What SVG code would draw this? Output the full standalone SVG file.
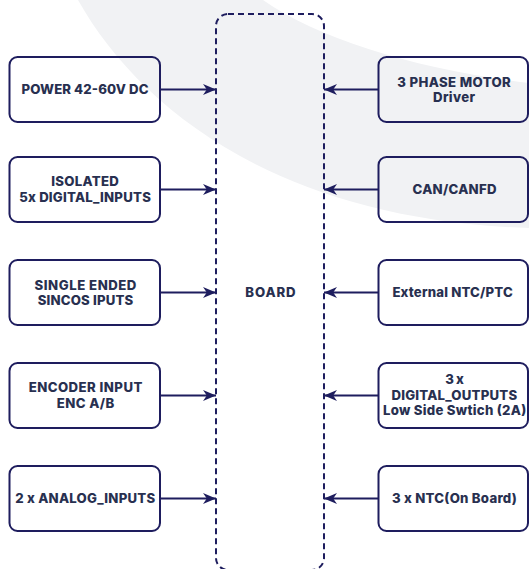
<svg xmlns="http://www.w3.org/2000/svg" width="529" height="569" viewBox="0 0 529 569">
  <style>
    .box { fill: none; stroke: #1e1d5e; stroke-width: 2; }
    .board { fill: none; stroke: #1e1d5e; stroke-width: 2; stroke-dasharray: 6 4; }
    .conn { stroke: #1e1d5e; stroke-width: 2; fill: none; marker-end: url(#arrow); }
    .t { font-family: Inter, "Noto Sans", "Liberation Sans", sans-serif; font-weight: 800; font-size: 13.2px; fill: #283050; text-anchor: middle; }
  </style>
  <defs>
    <marker id="arrow" markerUnits="userSpaceOnUse" markerWidth="14" markerHeight="12" refX="13" refY="5.5" orient="auto">
      <path d="M0,0 L13,5.5 L0,11 L3.8,5.5 Z" fill="#1e1d5e"/>
    </marker>
  </defs>
  <rect width="529" height="569" fill="#ffffff"/>
  <path id="band" d="M78,0 C140,110 280,220 529,228 L529,83 C420,70 320,40 263,0 Z" fill="#f1f2f4"/>

  <g id="board">
    <rect class="board" x="216" y="14" width="108" height="556" rx="12"/>
    <text class="t" x="270.4" y="297.2" textLength="50.2">BOARD</text>
  </g>

  <g id="n-power">
    <rect class="box" x="9.5" y="57" width="150.5" height="65" rx="8"/>
    <text class="t" x="85" y="94.2" textLength="127">POWER 42-60V DC</text>
  </g>
  <g id="n-isolated">
    <rect class="box" x="9.5" y="157" width="150.5" height="65" rx="8"/>
    <text class="t" x="85" y="185.7" textLength="67.6">ISOLATED</text>
    <text class="t" x="85" y="201.7" textLength="131.7">5x DIGITAL_INPUTS</text>
  </g>
  <g id="n-sincos">
    <rect class="box" x="9.5" y="260" width="150.5" height="65" rx="8"/>
    <text class="t" x="85.5" y="289.7" textLength="101.8">SINGLE ENDED</text>
    <text class="t" x="85.5" y="305.2" textLength="95.5">SINCOS IPUTS</text>
  </g>
  <g id="n-encoder">
    <rect class="box" x="9.5" y="363" width="150.5" height="65" rx="8"/>
    <text class="t" x="85.5" y="392.2" textLength="113.7">ENCODER INPUT</text>
    <text class="t" x="85.5" y="408" textLength="57.3">ENC A/B</text>
  </g>
  <g id="n-analog">
    <rect class="box" x="9.5" y="466" width="150.5" height="65" rx="8"/>
    <text class="t" x="85.2" y="503.2" textLength="140">2 x ANALOG_INPUTS</text>
  </g>

  <g id="n-motor">
    <rect class="box" x="378.5" y="57" width="149.5" height="65" rx="8"/>
    <text class="t" x="454" y="87" textLength="113.7">3 PHASE MOTOR</text>
    <text class="t" x="454" y="102.4" textLength="42">Driver</text>
  </g>
  <g id="n-can">
    <rect class="box" x="378.5" y="157" width="149.5" height="65" rx="8"/>
    <text class="t" x="454.5" y="193.7" textLength="84">CAN/CANFD</text>
  </g>
  <g id="n-ntc-ext">
    <rect class="box" x="378.5" y="260" width="149.5" height="65" rx="8"/>
    <text class="t" x="452.6" y="297.2" textLength="120.4">External NTC/PTC</text>
  </g>
  <g id="n-dout">
    <rect class="box" x="378.5" y="363" width="149.5" height="65" rx="8"/>
    <text class="t" x="454.6" y="384" textLength="18.6">3 x</text>
    <text class="t" x="454.3" y="399.7" textLength="125.8">DIGITAL_OUTPUTS</text>
    <text class="t" x="454.6" y="415.4" textLength="143.3">Low Side Swtich (2A)</text>
  </g>
  <g id="n-ntc-board">
    <rect class="box" x="378.5" y="466" width="149.5" height="65" rx="8"/>
    <text class="t" x="454.4" y="503.2" textLength="124.9">3 x NTC(On Board)</text>
  </g>

  <g id="connectors">
    <line class="conn" x1="160" y1="89.5" x2="216" y2="89.5"/>
    <line class="conn" x1="160" y1="189.5" x2="216" y2="189.5"/>
    <line class="conn" x1="160" y1="292.5" x2="216" y2="292.5"/>
    <line class="conn" x1="160" y1="395.5" x2="216" y2="395.5"/>
    <line class="conn" x1="160" y1="498.5" x2="216" y2="498.5"/>
    <line class="conn" x1="378.5" y1="89.5" x2="324" y2="89.5"/>
    <line class="conn" x1="378.5" y1="189.5" x2="324" y2="189.5"/>
    <line class="conn" x1="378.5" y1="292.5" x2="324" y2="292.5"/>
    <line class="conn" x1="378.5" y1="395.5" x2="324" y2="395.5"/>
    <line class="conn" x1="378.5" y1="498.5" x2="324" y2="498.5"/>
  </g>
</svg>
